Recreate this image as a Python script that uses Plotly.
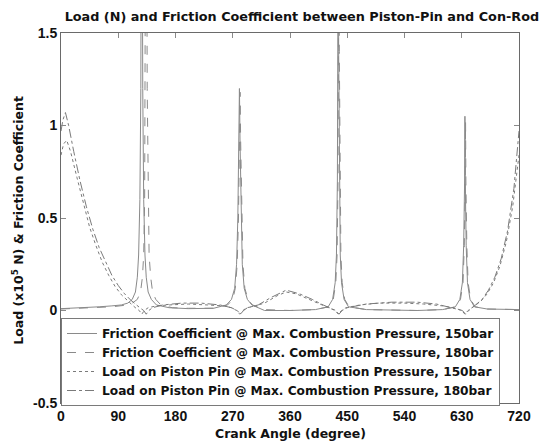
import plotly.graph_objects as go

# ---------------- data ----------------
crank_ticks = [0, 90, 180, 270, 360, 450, 540, 630, 720]
y_ticks = [-0.5, 0, 0.5, 1, 1.5]
y_tick_labels = ["-0.5", "0", "0.5", "1", "1.5"]

f150_x = [0, 20, 40, 60, 80, 95, 105, 112, 117, 120, 122, 124, 125.5, 126.5, 127, 127.5, 128.5, 130, 132, 134,
          137, 142, 150, 170, 200, 240, 260, 268, 273, 276, 278, 279.5, 280.5, 281.5, 283, 285, 288, 293, 300,
          320, 360, 400, 420, 427, 431, 433, 434.5, 435.5, 436, 436.5, 437.5, 439, 441, 445, 452, 480, 560,
          600, 620, 627, 631, 633, 634.5, 635, 635.5, 637, 639, 643, 650, 670, 700, 720]
f150_y = [0.01, 0.012, 0.015, 0.02, 0.025, 0.03, 0.04, 0.06, 0.1, 0.18, 0.3, 0.6, 1.2, 2.5, 3.5, 2.5, 1.2, 0.6, 0.3, 0.18,
          0.1, 0.06, 0.03, 0.015, 0.01, 0.012, 0.03, 0.06, 0.12, 0.25, 0.5, 0.9, 1.2, 0.9, 0.5, 0.25, 0.12, 0.06, 0.03,
          0.0, 0.0, 0.005, 0.02, 0.06, 0.15, 0.3, 0.7, 1.4, 2.5, 1.4, 0.7, 0.3, 0.15, 0.06, 0.02, 0.005, 0.0,
          0.005, 0.02, 0.06, 0.15, 0.35, 0.7, 1.05, 0.7, 0.35, 0.15, 0.06, 0.02, 0.008, 0.005, 0.005]

f180_x = [0, 20, 40, 60, 80, 100, 112, 120, 125, 128, 130, 131.5, 132.5, 133.5, 134, 134.5, 135.5, 137, 138.5, 141,
          144, 149, 157, 175, 200, 240, 262, 270, 274, 277, 279, 280.5, 281.5, 282.5, 284, 286, 289, 294, 301,
          320, 360, 400, 421, 428, 432, 434, 435.5, 436.5, 437, 437.5, 438.5, 440, 442, 446, 453, 480, 560,
          600, 621, 628, 632, 634, 635.5, 636, 636.5, 638, 640, 644, 651, 670, 700, 720]
f180_y = [0.008, 0.01, 0.012, 0.015, 0.02, 0.028, 0.04, 0.06, 0.1, 0.18, 0.3, 0.6, 1.2, 2.5, 3.5, 2.5, 1.2, 0.6, 0.3, 0.18,
          0.1, 0.06, 0.03, 0.015, 0.012, 0.012, 0.03, 0.06, 0.12, 0.25, 0.5, 0.9, 1.18, 0.9, 0.5, 0.25, 0.12, 0.06, 0.03,
          0.005, 0.0, 0.005, 0.02, 0.06, 0.15, 0.3, 0.7, 1.4, 2.5, 1.4, 0.7, 0.3, 0.15, 0.06, 0.02, 0.005, 0.0,
          0.005, 0.02, 0.06, 0.15, 0.35, 0.7, 1.02, 0.7, 0.35, 0.15, 0.06, 0.02, 0.008, 0.005, 0.005]

l150_x = [0, 4, 9, 15, 25, 35, 45, 55, 65, 75, 85, 95, 105, 112, 118, 123, 127, 131, 137, 150, 170, 200, 230,
          255, 268, 276, 281, 286, 292, 300, 320, 340, 354, 370, 390, 410, 425, 431, 436, 441, 448, 470, 500,
          540, 570, 600, 620, 630, 635, 640, 648, 660, 670, 680, 690, 700, 710, 720]
l150_y = [0.84, 0.9, 0.92, 0.86, 0.72, 0.58, 0.45, 0.35, 0.26, 0.19, 0.13, 0.085, 0.05, 0.03, 0.012, 0.0, -0.02, 0.0,
          0.015, 0.025, 0.03, 0.035, 0.03, 0.025, 0.015, 0.0, -0.02, 0.0, 0.015, 0.02, 0.04, 0.08, 0.1, 0.09, 0.06,
          0.03, 0.01, 0.0, -0.02, 0.0, 0.015, 0.03, 0.04, 0.04, 0.035, 0.025, 0.012, 0.0, -0.02, 0.0, 0.02, 0.05,
          0.09, 0.15, 0.24, 0.37, 0.56, 0.84]

l180_x = [0, 3, 7, 12, 20, 30, 40, 50, 60, 70, 80, 90, 100, 110, 118, 125, 130, 134, 138, 144, 160, 190, 220,
          250, 268, 277, 282, 287, 293, 310, 330, 354, 375, 395, 412, 426, 432, 437, 442, 450, 480, 520, 560,
          590, 615, 631, 636, 641, 650, 662, 672, 682, 692, 702, 712, 720]
l180_y = [0.97, 1.03, 1.07, 1.0, 0.86, 0.7, 0.56, 0.44, 0.34, 0.26, 0.19, 0.135, 0.09, 0.055, 0.03, 0.012, 0.0, -0.02,
          0.0, 0.015, 0.03, 0.04, 0.04, 0.03, 0.015, 0.0, -0.02, 0.0, 0.015, 0.03, 0.07, 0.11, 0.09, 0.06, 0.03,
          0.01, 0.0, -0.02, 0.0, 0.015, 0.035, 0.045, 0.045, 0.035, 0.015, 0.0, -0.02, 0.0, 0.025, 0.06, 0.11,
          0.18, 0.28, 0.43, 0.66, 0.97]

series_names = [
    "Friction Coefficient @ Max. Combustion Pressure, 150bar",
    "Friction Coefficient @ Max. Combustion Pressure, 180bar",
    "Load on Piston Pin @ Max. Combustion Pressure, 150bar",
    "Load on Piston Pin @ Max. Combustion Pressure, 180bar",
]

# ---------------- figure ----------------
TICKFONT = "Liberation Sans, Arial, Helvetica, sans-serif"
TEXTFONT = "DejaVu Sans, Verdana, sans-serif"
W, H = 543, 443
ML, MR, MT, MB = 61, 16, 33, 40

styles = [
    dict(color="#8a8a8a", width=1, dash="solid"),
    dict(color="#8a8a8a", width=1, dash="dash"),
    dict(color="#7a7a7a", width=1, dash="dot"),
    dict(color="#7a7a7a", width=1, dash="dashdot"),
]
data = [(f150_x, f150_y), (f180_x, f180_y), (l150_x, l150_y), (l180_x, l180_y)]

fig = go.Figure()
for (xs, ys), name, st in zip(data, series_names, styles):
    fig.add_trace(go.Scatter(x=xs, y=ys, mode="lines", name=name, line=st, cliponaxis=True))

axis_common = dict(
    showline=True, linecolor="#6a6a6a", linewidth=1, mirror="ticks",
    ticks="inside", ticklen=5, tickcolor="#8a8a8a", tickwidth=1,
    showgrid=False, zeroline=False,
    tickfont=dict(family=TICKFONT, size=14, color="#111", weight="bold"),
)

fig.update_layout(
    width=W, height=H,
    margin=dict(l=ML, r=MR, t=MT, b=MB),
    paper_bgcolor="white", plot_bgcolor="white",
    showlegend=True,
    title=dict(text="Load (N) and Friction Coefficient between Piston-Pin and Con-Rod",
               font=dict(family=TEXTFONT, size=12.8, color="#111", weight="bold"),
               xref="container", yref="container", x=0.556, y=1 - 17 / H,
               xanchor="center", yanchor="middle"),
    xaxis=dict(range=[0, 720], tickvals=crank_ticks, ticktext=[str(v) for v in crank_ticks], **axis_common),
    yaxis=dict(range=[-0.5, 1.5], tickvals=y_ticks, ticktext=y_tick_labels, **axis_common),
    legend=dict(x=0, y=(403 - 318) / 370, xanchor="left", yanchor="top",
                bgcolor="white", bordercolor="#7a7a7a", borderwidth=1,
                font=dict(family=TEXTFONT, size=12.2, color="#111", weight="bold"),
                tracegroupgap=0, itemwidth=30),
    annotations=[
        dict(text="Crank Angle (degree)", xref="paper", yref="paper", x=0.5, y=-(433 - 403) / 370,
             xanchor="center", yanchor="middle", showarrow=False,
             font=dict(family=TEXTFONT, size=12.5, color="#111", weight="bold")),
        dict(text="Load (x10<sup>5</sup> N) & Friction Coefficient", xref="paper", yref="paper",
             x=(17 - ML) / 466, y=(403 - 220) / 370, xanchor="center", yanchor="middle",
             textangle=-90, showarrow=False,
             font=dict(family=TEXTFONT, size=12.5, color="#111", weight="bold")),
    ],
)

fig.write_html("out.html")
